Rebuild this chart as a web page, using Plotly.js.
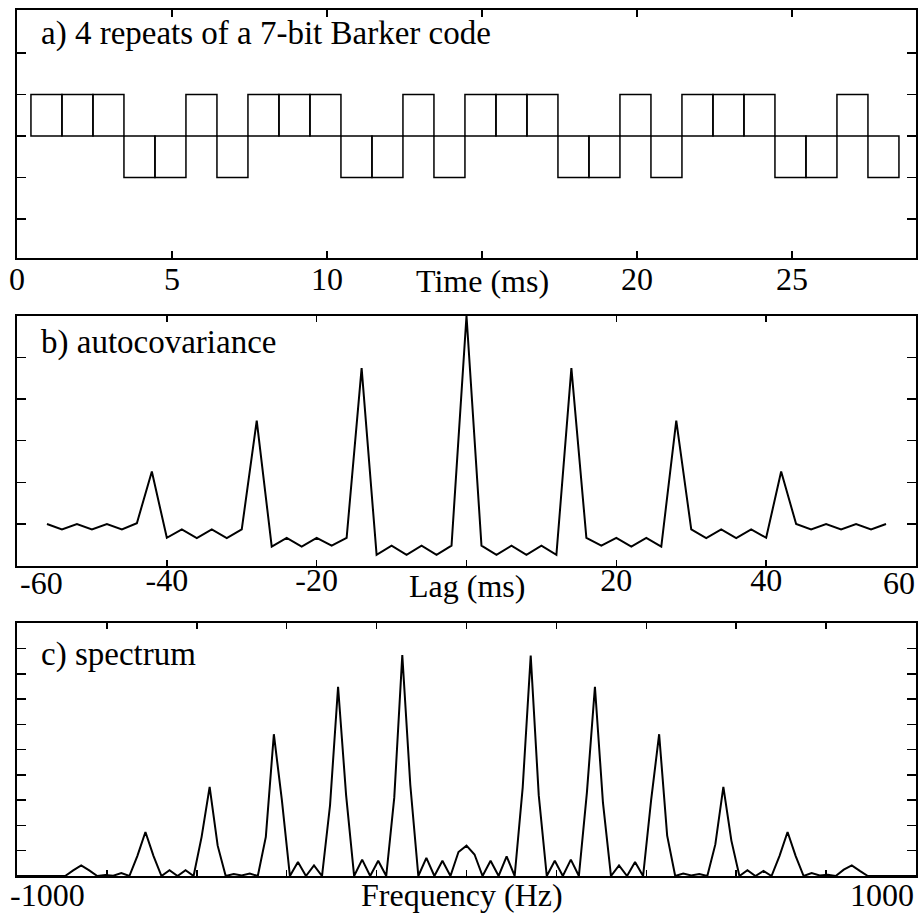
<!DOCTYPE html>
<html>
<head>
<meta charset="utf-8">
<script src="https://cdn.plot.ly/plotly-3.0.1.min.js"></script>
<style>
html,body{margin:0;padding:0;background:#ffffff;}
#chart{width:921px;height:913px;}
</style>
</head>
<body>
<div id="chart"></div>
<script>
// ---- Panel a: 4 repeats of a 7-bit Barker code (bit centre time in ms, bit value)
const bitTimeMs = [0.95,1.95,2.95,3.95,4.95,5.95,6.95,7.95,8.95,9.95,10.95,11.95,12.95,13.95,
                   14.95,15.95,16.95,17.95,18.95,19.95,20.95,21.95,22.95,23.95,24.95,25.95,26.95,27.95];
const bitValue  = [1,1,1,-1,-1,1,-1, 1,1,1,-1,-1,1,-1, 1,1,1,-1,-1,1,-1, 1,1,1,-1,-1,1,-1];
const bitWidthMs = 1;

// ---- Panel b: autocovariance
const lagMs = [-56,-54,-52,-50,-48,-46,-44,-42,-40,-38,-36,-34,-32,-30,-28,-26,-24,-22,-20,-18,-16,-14,-12,-10,-8,-6,-4,-2,
               0,2,4,6,8,10,12,14,16,18,20,22,24,26,28,30,32,34,36,38,40,42,44,46,48,50,52,54,56];
const autocov = [0.00,-0.13,0.00,-0.13,0.00,-0.13,0.02,1.26,-0.33,-0.13,-0.34,-0.13,-0.34,-0.13,2.48,-0.54,-0.33,-0.54,-0.33,-0.52,-0.33,3.74,-0.74,-0.52,-0.74,-0.52,-0.74,-0.52,
                 5.00,-0.52,-0.74,-0.52,-0.74,-0.52,-0.74,3.74,-0.33,-0.52,-0.33,-0.54,-0.33,-0.54,2.48,-0.13,-0.34,-0.13,-0.34,-0.13,-0.33,1.26,0.00,-0.13,0.00,-0.13,0.00,-0.13,0.00];

// ---- Panel c: spectrum (bins from -1000 Hz to +1000 Hz)
const spectrum = [
  0,0,0,0,0,0,
  0,0.22,0.42,0.22,0,0.04,0.01,0.12,0,0.8,1.74,0.8,0,0.23,0,0.23,0,1.55,3.53,1.2,0,0.08,0.02,0.1,0,
  1.55,5.61,3.0,0,0.55,0,0.42,0,2.8,7.49,3.2,0,0.65,0,0.6,0,3.1,8.74,3.6,0,0.72,0,0.6,0,0.95,
  1.2,
  0.85,0,0.6,0,0.78,0,3.5,8.72,3.2,0,0.6,0,0.65,0,3.3,7.49,2.9,0,0.42,0,0.55,0,3.0,5.61,1.6,
  0,0.1,0.02,0.08,0,1.25,3.53,1.4,0,0.23,0,0.2,0,0.8,1.74,0.8,0,0.12,0.02,0.05,0,0.25,0.42,0.2,0,
  0,0,0,0,0,0
];
const binHz = 1000/56;
const freqHz = spectrum.map((_, i) => (i - (spectrum.length - 1) / 2) * binHz);

// tick labels
const timeTicks = [0,5,10,15,20,25];
const timeTickText = ['0','5','10','','20','25'];
const lagTicks = [-60,-40,-20,0,20,40,60];
const lagTickText = ['','-40','-20','','20','40',''];
const freqTicks = [-800,-600,-400,-200,0,200,400,600,800];

const FONT = 'Liberation Serif';
const BLACK = '#000000';
const TXT = {family: FONT, size: 32, color: BLACK};
const TITLE = {family: FONT, size: 33, color: BLACK};

const traces = [
  {
    type: 'bar', x: bitTimeMs, y: bitValue, width: bitWidthMs,
    marker: {color: 'rgba(0,0,0,0)', line: {color: BLACK, width: 1.5}},
    xaxis: 'x', yaxis: 'y', hoverinfo: 'skip'
  },
  {
    type: 'scatter', mode: 'lines', x: lagMs, y: autocov,
    line: {color: BLACK, width: 2}, xaxis: 'x2', yaxis: 'y2', hoverinfo: 'skip'
  },
  {
    type: 'scatter', mode: 'lines', x: freqHz, y: spectrum,
    line: {color: BLACK, width: 2}, xaxis: 'x3', yaxis: 'y3', hoverinfo: 'skip'
  }
];

const axisBase = {
  showline: true, linecolor: BLACK, linewidth: 2, mirror: 'ticks',
  ticks: 'inside', tickcolor: BLACK, tickwidth: 1.5,
  showgrid: false, zeroline: false, fixedrange: true,
  tickfont: TXT
};

const layout = {
  width: 921, height: 913,
  margin: {l: 17, r: 5, t: 10, b: 37},
  paper_bgcolor: '#ffffff', plot_bgcolor: '#ffffff',
  showlegend: false, bargap: 0,
  font: TXT,
  xaxis: Object.assign({}, axisBase, {anchor: 'y', range: [0, 29], tickmode: 'array',
    tickvals: timeTicks, ticktext: timeTickText, ticklen: 7, ticklabelstandoff: -8}),
  yaxis: Object.assign({}, axisBase, {anchor: 'x', domain: [0.7136, 1], range: [-2.94, 3.04],
    tickmode: 'array', tickvals: [-2,-1,0,1,2], showticklabels: false, ticklen: 9}),
  xaxis2: Object.assign({}, axisBase, {anchor: 'y2', range: [-60, 60], tickmode: 'array',
    tickvals: lagTicks, ticktext: lagTickText, ticklen: 6, ticklabelstandoff: -15}),
  yaxis2: Object.assign({}, axisBase, {anchor: 'x2', domain: [0.3583, 0.6470], range: [-1, 5],
    tickmode: 'array', tickvals: [0,1,2,3,4], showticklabels: false, ticklen: 9}),
  xaxis3: Object.assign({}, axisBase, {anchor: 'y3', range: [-1000, 1000], tickmode: 'array',
    tickvals: freqTicks, showticklabels: false, ticklen: 6}),
  yaxis3: Object.assign({}, axisBase, {anchor: 'x3', domain: [0, 0.2918], range: [0, 10],
    tickmode: 'array', tickvals: [1,2,3,4,5,6,7,8,9], showticklabels: false, ticklen: 9}),
  annotations: [
    {text: 'a) 4 repeats of a 7-bit Barker code', xref: 'paper', yref: 'paper', x: 0.0245, y: 0.9725,
     xanchor: 'left', yanchor: 'middle', showarrow: false, font: TITLE},
    {text: 'b) autocovariance', xref: 'paper', yref: 'paper', x: 0.0245, y: 0.6165,
     xanchor: 'left', yanchor: 'middle', showarrow: false, font: TITLE},
    {text: 'c) spectrum', xref: 'paper', yref: 'paper', x: 0.0245, y: 0.2560,
     xanchor: 'left', yanchor: 'middle', showarrow: false, font: TITLE},
    {text: 'Time (ms)', xref: 'x', yref: 'y domain', x: 15, y: 0, yshift: -23,
     xanchor: 'center', yanchor: 'middle', showarrow: false, font: TXT},
    {text: 'Lag (ms)', xref: 'x2', yref: 'y2 domain', x: 0, y: 0, yshift: -20,
     xanchor: 'center', yanchor: 'middle', showarrow: false, font: TXT},
    {text: '-60', xref: 'x2', yref: 'y2 domain', x: -60, y: 0, yshift: -17, xshift: 1,
     xanchor: 'left', yanchor: 'middle', showarrow: false, font: TXT},
    {text: '60', xref: 'x2', yref: 'y2 domain', x: 60, y: 0, yshift: -17, xshift: 1,
     xanchor: 'right', yanchor: 'middle', showarrow: false, font: TXT},
    {text: 'Frequency (Hz)', xref: 'x3', yref: 'y3 domain', x: -9, y: 0, yshift: -19,
     xanchor: 'center', yanchor: 'middle', showarrow: false, font: TXT},
    {text: '-1000', xref: 'x3', yref: 'y3 domain', x: -1000, y: 0, yshift: -19, xshift: -9,
     xanchor: 'left', yanchor: 'middle', showarrow: false, font: TXT},
    {text: '1000', xref: 'x3', yref: 'y3 domain', x: 1000, y: 0, yshift: -19, xshift: 0,
     xanchor: 'right', yanchor: 'middle', showarrow: false, font: TXT}
  ]
};

Plotly.newPlot('chart', traces, layout, {displayModeBar: false, staticPlot: true});
</script>
</body>
</html>
